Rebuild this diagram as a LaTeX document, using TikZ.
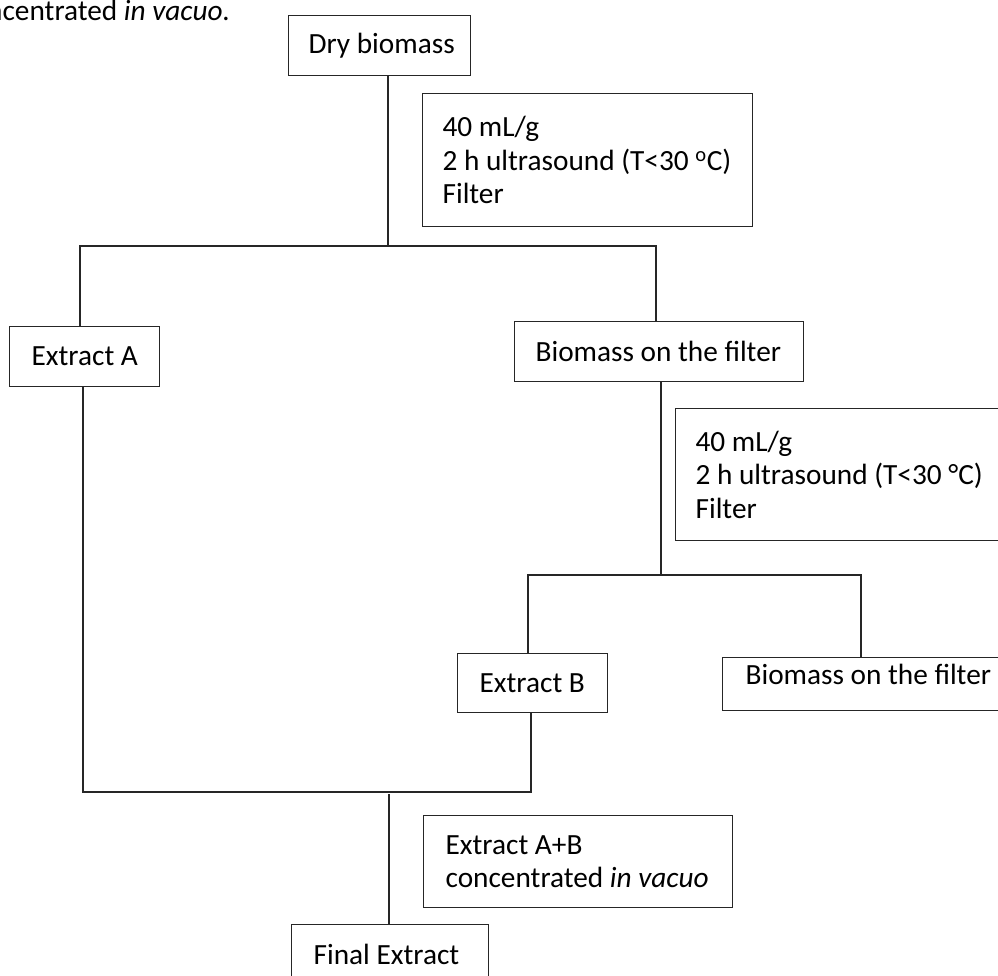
\documentclass[tikz,border=0pt]{standalone}
\usepackage{fontspec}
\setmainfont{Carlito}
\begin{document}
\begin{tikzpicture}[x=1pt,y=-1pt,line width=1.2pt,
  box/.style={draw=black!85,rectangle,inner sep=0pt,anchor=north west},
  txt/.style={inner sep=0pt,align=left,font=\fontsize{29.3}{33.5}\selectfont,text=black},
  conn/.style={draw=black!85,line width=1.2pt}]
\useasboundingbox (0,0) rectangle (998,976);
\clip (0,0) rectangle (998,976);
% top clipped caption
\node[txt,anchor=base west] (cap) at (-41,21) {concentrated \textit{in vacuo.}};
% boxes
\node[box,minimum width=182pt,minimum height=60pt] (dry) at (288,15) {};
\node[txt,anchor=west] (dryt) at ([xshift=20pt]dry.west) {Dry biomass};
\node[box,minimum width=330pt,minimum height=133pt] (p1) at (422,93) {};
\node[txt,anchor=west] (p1t) at ([xshift=20pt]p1.west) {40 mL/g\\2 h ultrasound (T<30 \textsuperscript{o}C)\\Filter};
\node[box,minimum width=150pt,minimum height=60pt] (extA) at (9,326) {};
\node[txt,anchor=west] (extAt) at ([xshift=22pt]extA.west) {Extract A};
\node[box,minimum width=289pt,minimum height=60pt] (bio1) at (514,321) {};
\node[txt,anchor=west] (bio1t) at ([xshift=21pt]bio1.west) {Biomass on the filter};
\node[box,minimum width=345pt,minimum height=132pt] (p2) at (675,408) {};
\node[txt,anchor=west] (p2t) at ([xshift=20pt]p2.west) {40 mL/g\\2 h ultrasound (T<30 °C)\\Filter};
\node[box,minimum width=150pt,minimum height=59pt] (extB) at (457,653) {};
\node[txt,anchor=west] (extBt) at ([xshift=22pt]extB.west) {Extract B};
\node[box,minimum width=300pt,minimum height=53pt] (bio2) at (722,657) {};
\node[txt,anchor=west] (bio2t) at ([xshift=23pt,yshift=10pt]bio2.west) {Biomass on the filter};
\node[box,minimum width=309pt,minimum height=92pt] (p3) at (423,815) {};
\node[txt,anchor=west] (p3t) at ([xshift=22pt]p3.west) {Extract A+B\\concentrated \textit{in vacuo}};
\node[box,minimum width=197pt,minimum height=60pt] (fin) at (291,924) {};
\node[txt,anchor=west] (fint) at ([xshift=22pt]fin.west) {Final Extract};
% junction coordinates
\coordinate (j1) at (388,246);
\coordinate (t1) at (80,246);
\coordinate (t2) at (656,246);
\coordinate (b1) at (661,575);
\coordinate (b2) at (528,575);
\coordinate (b3) at (861,575);
\coordinate (c1) at (83,792);
\coordinate (c2) at (531,792);
\coordinate (c3) at (389,794);
% connectors
\draw[conn] (dry.south -| j1) -- (j1);
\draw[conn] (t1 |- extA.north) -- (t1) -- (t2) -- (t2 |- bio1.north);
\draw[conn] (bio1.south -| b1) -- (b1);
\draw[conn] (b2 |- extB.north) -- (b2) -- (b3) -- (b3 |- bio2.north);
\draw[conn] (c1 |- extA.south) -- (c1) -- (c2) -- (c2 |- extB.south);
\draw[conn] (c3) -- (c3 |- fin.north);
\end{tikzpicture}
\end{document}
